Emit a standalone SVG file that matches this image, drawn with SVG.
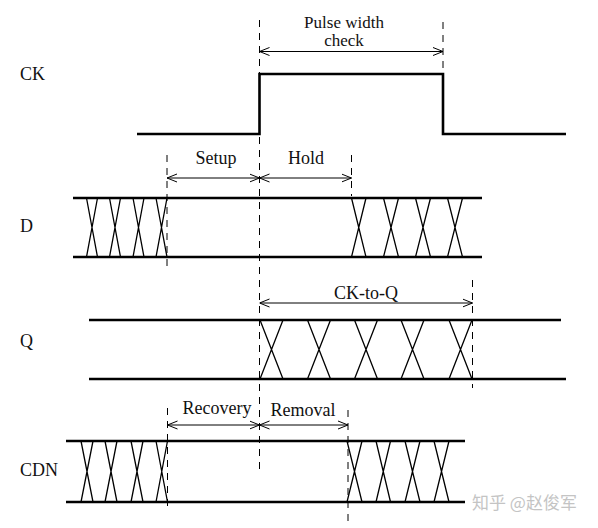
<svg xmlns="http://www.w3.org/2000/svg" width="598" height="528" viewBox="0 0 598 528">
<style>
.sig{fill:none;stroke:#000;stroke-width:2.6}
.x{fill:none;stroke:#000;stroke-width:1.3}
.dash{fill:none;stroke:#000;stroke-width:1;stroke-dasharray:7,6}
.dim{fill:none;stroke:#000;stroke-width:1;marker-start:url(#a);marker-end:url(#a)}
text{font-family:"Liberation Serif","Times New Roman",serif;font-size:18px;fill:#111}
.c{text-anchor:middle}
.s{font-size:17px}
.wm{font-family:"Noto Sans CJK SC","Liberation Sans",sans-serif;font-size:17px;fill:#c4c4c4}
</style>
<defs>
<marker id="a" viewBox="0 0 10 10" refX="10" refY="5" markerWidth="10" markerHeight="10" markerUnits="userSpaceOnUse" orient="auto-start-reverse">
<path d="M0,1 L10,5 L0,9" fill="none" stroke="#000" stroke-width="1"/>
</marker>
</defs>
<rect width="598" height="528" fill="#fff"/>
<g id="guides">
<line class="dash" x1="259.5" y1="20" x2="259.5" y2="470"/>
<line class="dash" x1="443" y1="22" x2="443" y2="70"/>
<line class="dash" x1="167" y1="155" x2="167" y2="272"/>
<line class="dash" x1="351.5" y1="155" x2="351.5" y2="196"/>
<line class="dash" x1="472.5" y1="280" x2="472.5" y2="388"/>
<line class="dash" x1="167.5" y1="408" x2="167.5" y2="512"/>
<line class="dash" x1="348" y1="410" x2="348" y2="524"/>
</g>
<g id="CK">
<text x="20" y="80">CK</text>
<polyline class="sig" points="137,134 259.5,134 259.5,74 443,74 443,134 566,134"/>
</g>
<g id="D">
<text x="20" y="232">D</text>
<line class="sig" x1="73" y1="198" x2="482" y2="198"/>
<line class="sig" x1="73" y1="257" x2="482" y2="257"/>
<path class="x" d="M86.5,198 L97.5,257 M97.5,198 L86.5,257 M109.5,198 L120.5,257 M120.5,198 L109.5,257 M133,198 L144,257 M144,198 L133,257 M156,198 L167,257 M167,198 L156,257"/>
<path class="x" d="M351.5,198 L366,257 M366,198 L351.5,257 M383.5,198 L398.5,257 M398.5,198 L383.5,257 M415.5,198 L430.5,257 M430.5,198 L415.5,257 M447.5,198 L462.5,257 M462.5,198 L447.5,257"/>
</g>
<g id="Q">
<text x="20" y="347">Q</text>
<line class="sig" x1="89" y1="320" x2="561" y2="320"/>
<line class="sig" x1="89" y1="379" x2="566" y2="379"/>
<path class="x" d="M260,320 L283,379 M283,320 L260,379 M307.5,320 L330.5,379 M330.5,320 L307.5,379 M354.5,320 L377.5,379 M377.5,320 L354.5,379 M401,320 L424,379 M424,320 L401,379 M449,320 L472,379 M472,320 L449,379"/>
</g>
<g id="CDN">
<text x="20" y="476">CDN</text>
<line class="sig" x1="66" y1="441" x2="465" y2="441"/>
<line class="sig" x1="66" y1="502" x2="465" y2="502"/>
<path class="x" d="M81,441 L93,502 M93,441 L81,502 M105,441 L117,502 M117,441 L105,502 M131,441 L143,502 M143,441 L131,502 M156,441 L167.5,502 M167.5,441 L156,502"/>
<path class="x" d="M347,441 L362,502 M362,441 L347,502 M376,441 L390.5,502 M390.5,441 L376,502 M405,441 L420,502 M420,441 L405,502 M434,441 L449,502 M449,441 L434,502"/>
</g>
<g id="connectors">
<line class="dim" x1="259.5" y1="51.5" x2="443" y2="51.5"/>
<line class="dim" x1="167" y1="178" x2="259.5" y2="178"/>
<line class="dim" x1="259.5" y1="178" x2="351.5" y2="178"/>
<line class="dim" x1="259.5" y1="303" x2="472.5" y2="303"/>
<line class="dim" x1="167.5" y1="425" x2="259.5" y2="425"/>
<line class="dim" x1="259.5" y1="425" x2="348" y2="425"/>
</g>
<g id="labels">
<text class="c s" x="344" y="28">Pulse width</text>
<text class="c s" x="344" y="46">check</text>
<text class="c" x="216" y="164">Setup</text>
<text class="c" x="306" y="164">Hold</text>
<text class="c" x="366" y="299">CK-to-Q</text>
<text class="c" x="217" y="414">Recovery</text>
<text class="c" x="303" y="416">Removal</text>
<text class="wm" x="472" y="509">知乎 @赵俊军</text>
</g>
</svg>
